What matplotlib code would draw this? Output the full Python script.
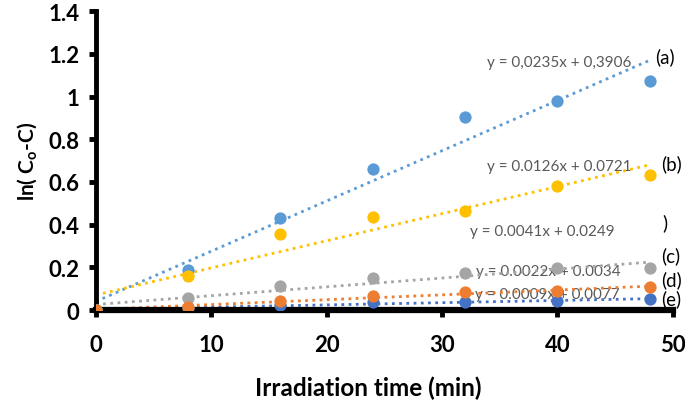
import numpy as np
import matplotlib
matplotlib.use('Agg')
from matplotlib import pyplot as plt

plt.rcParams['font.family'] = ['Lato', 'DejaVu Sans']

time_min = [0, 8, 16, 24, 32, 40, 48]

# ln(Co-C) for each sample
series_a = [0.0, 0.19, 0.43, 0.66, 0.905, 0.978, 1.072]
series_b = [0.0, 0.16, 0.356, 0.437, 0.463, 0.58, 0.632]
series_c = [0.0, 0.055, 0.111, 0.151, 0.172, 0.195, 0.195]
series_d = [0.0, 0.017, 0.044, 0.064, 0.083, 0.088, 0.109]
series_e = [0.0, 0.010, 0.023, 0.036, 0.039, 0.042, 0.051]

equations = ['y = 0,0235x + 0,3906', 'y = 0.0126x + 0.0721', 'y = 0.0041x + 0.0249',
             'y = 0.0022x + 0.0034', 'y = 0.0009x + 0.0077']
tags = ['(a)', '(b)', '(c)', '(d)', '(e)']

colors = ['#5B9BD5', '#FFC000', '#A5A5A5', '#4472C4', '#ED7D31']

fig = plt.figure(figsize=(6.85, 4.02), dpi=100)
ax = fig.add_axes([0.140, 0.226, 0.842, 0.744])

x = np.array(time_min, dtype=float)
order = [(series_a, colors[0]), (series_b, colors[1]), (series_c, colors[2]),
         (series_e, colors[3]), (series_d, colors[4])]
for ys, col in order:
    ys = np.array(ys)
    k, b = np.polyfit(x, ys, 1)
    xx = np.array([0, 48])
    ax.plot(xx, k * xx + b, linestyle=(0, (1, 1.6)), color=col, lw=2.0, zorder=2)
    ax.scatter(x, ys, s=78, color=col, zorder=3, linewidths=0)

# equation labels (right-aligned) and series tags
eq_pos = [(46.4, 1.163), (46.4, 0.676), (45.0, 0.372), (45.5, 0.183), (45.4, 0.075)]
for txt, (px, py) in zip(equations, eq_pos):
    ax.text(px, py, txt, ha='right', va='center', fontsize=11, color='#595959', zorder=1)

tag_pos = [(48.5, 1.19), (49.0, 0.686), (49.0, 0.255), (49.0, 0.146), (49.0, 0.058)]
for txt, (px, py) in zip(tags, tag_pos):
    ax.text(px, py, txt, ha='left', va='center', fontsize=13.5, color='black', clip_on=False)
ax.text(49.1, 0.41, ')', ha='left', va='center', fontsize=13.5, color='black', clip_on=False)

ax.set_xlim(0, 50)
ax.set_ylim(0, 1.4)
ax.set_xticks([0, 10, 20, 30, 40, 50])
ax.set_yticks([0, 0.2, 0.4, 0.6, 0.8, 1.0, 1.2, 1.4])
ax.set_yticklabels(['0', '0.2', '0.4', '0.6', '0.8', '1', '1.2', '1.4'])

for side in ['top', 'right']:
    ax.spines[side].set_visible(False)
ax.spines['left'].set_linewidth(3.5)
ax.spines['bottom'].set_linewidth(4.5)
ax.tick_params(axis='both', direction='out', length=5, width=3.5, labelsize=16)
ax.tick_params(axis='x', pad=12)
ax.tick_params(axis='y', pad=7)
for lab in ax.get_xticklabels() + ax.get_yticklabels():
    lab.set_fontweight('bold')

ax.set_xlabel('Irradiation time (min)', fontsize=17.5, fontweight='bold', va='center')
ax.xaxis.set_label_coords(0.472, -0.258)
ax.set_ylabel('ln( C$_\\mathregular{o}$-C)', fontsize=15, fontweight='bold', labelpad=6)

fig.savefig('out.png', dpi=100)
